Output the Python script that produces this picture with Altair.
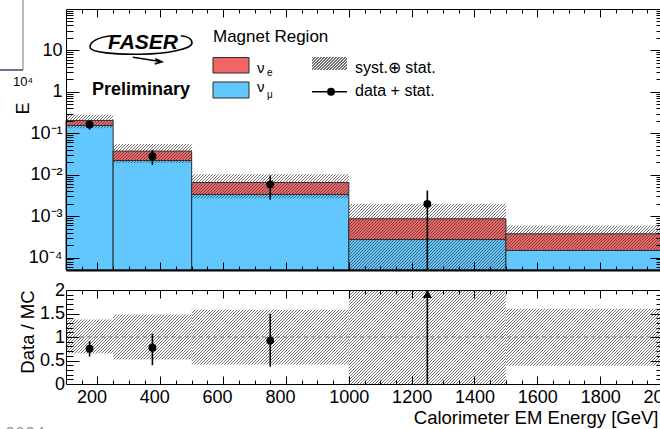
import math
import json
import altair as alt
import pandas as pd

# ---------------- data ----------------
bin_lo = [100, 250, 500, 1000, 1500]
bin_hi = [250, 500, 1000, 1500, 2000]
nu_mu = [0.154, 0.0220, 0.00333, 0.000272, 0.000148]
nu_e = [0.050, 0.0150, 0.00315, 0.000589, 0.000225]
unc_lo = [0.65, 0.52, 0.415, 0.0, 0.39]      # syst+stat band, relative to total MC
unc_hi = [1.37, 1.48, 1.58, 2.30, 1.60]
data_x = [175, 375, 750, 1250]
data_y = [0.163, 0.0280, 0.0058, 0.00198]
data_dn = [0.122, 0.0173, 0.00248, 0.0]
data_up = [0.194, 0.0399, 0.00957, 0.00415]
ratio_y = [0.75, 0.77, 0.925, 2.30]
ratio_dn = [0.585, 0.40, 0.37, 0.0]
ratio_up = [0.91, 1.07, 1.49, 2.60]
x_tick_labels = [200, 400, 600, 800, 1000, 1200, 1400, 1600, 1800, 2000]
top_y_ticks = [1e-4, 1e-3, 1e-2, 1e-1, 1, 10]
top_y_labels = ["10⁻⁴", "10⁻³", "10⁻²", "10⁻¹", "1", "10"]
ratio_y_ticks = [0, 0.5, 1, 1.5, 2]
ratio_y_labels = ["0", "0.5", "1", "1.5", "2"]

# ---------------- geometry / style ----------------
FONT = "Liberation Sans"
W, XR, H = 594, 597, 375
TOP_H, R_TOP, R_BOT = 261, 281, 375
XMIN, XMAX = 100, 2000
YMIN, YMAX = 5e-5, 100
RMIN, RMAX = 0, 2
BLUE = "#63C7FF"
RED = "#F26565"
EDGE = "#2a2a2a"

xs = alt.Scale(domain=[XMIN, XMAX], range=[0, XR], nice=False, zero=False)
yt = alt.Scale(type="log", domain=[YMIN, YMAX], range=[TOP_H, 0], nice=False)
yr = alt.Scale(domain=[RMIN, RMAX], range=[R_BOT, R_TOP], nice=False, zero=False)


def xpx(v):
    return XR * (v - XMIN) / (XMAX - XMIN)


def ypx_top(v):
    return TOP_H * (math.log10(YMAX) - math.log10(v)) / (math.log10(YMAX) - math.log10(YMIN))


def ypx_rat(v):
    return R_BOT - (R_BOT - R_TOP) * (v - RMIN) / (RMAX - RMIN)


def hatch(w, h, period=3.0, frac=0.34, color="rgba(60,60,60,0.72)"):
    """Diagonal '///' hatch as a striped linear gradient with an exact pixel period."""
    w = max(w, 1.0)
    h = max(h, 1.0)
    n = max(1, int(math.ceil((w + h) / period)))
    span = n * period
    k = span / (w * w + h * h)
    clear = "rgba(60,60,60,0)"
    stops = []
    for i in range(n):
        a = round(i / n, 7)
        b = round((i + frac) / n, 7)
        c = round((i + 1) / n, 7)
        stops += [{"offset": a, "color": color}, {"offset": b, "color": color},
                  {"offset": b, "color": clear}, {"offset": c, "color": clear}]
    return {"gradient": "linear", "x1": 0, "y1": 0, "x2": w * k, "y2": h * k, "stops": stops}


def X(f):
    return alt.X(f, type="quantitative", scale=xs, axis=None)


def YT(f):
    return alt.Y(f, type="quantitative", scale=yt, axis=None)


def YR(f):
    return alt.Y(f, type="quantitative", scale=yr, axis=None)


one = pd.DataFrame({"k": [0]})

# ---------------- top panel ----------------
tot = [m + e for m, e in zip(nu_mu, nu_e)]
top_df = pd.DataFrame({
    "x0": bin_lo, "x1": bin_hi, "base": [YMIN] * 5, "mu": nu_mu, "tot": tot,
    "hlo": [max(t * l, YMIN) for t, l in zip(tot, unc_lo)],
    "hhi": [min(t * u, YMAX) for t, u in zip(tot, unc_hi)],
})
layers = []
layers.append(alt.Chart(top_df).mark_rect(color=BLUE, stroke=EDGE, strokeWidth=1)
              .encode(x=X("x0"), x2="x1", y=YT("base"), y2="mu"))
layers.append(alt.Chart(top_df).mark_rect(color=RED, stroke=EDGE, strokeWidth=1)
              .encode(x=X("x0"), x2="x1", y=YT("mu"), y2="tot"))
for i in range(5):
    r = top_df.iloc[[i]]
    w = xpx(bin_hi[i]) - xpx(bin_lo[i])
    h = ypx_top(r["hlo"].iloc[0]) - ypx_top(r["hhi"].iloc[0])
    layers.append(alt.Chart(r).mark_rect(fill=hatch(w, h), strokeWidth=0)
                  .encode(x=X("x0"), x2="x1", y=YT("hlo"), y2="hhi"))

pts = pd.DataFrame({"x": data_x, "y": data_y,
                    "dn": [max(d, YMIN) for d in data_dn], "up": data_up})
layers.append(alt.Chart(pts).mark_rule(color="black", strokeWidth=1.6)
              .encode(x=X("x"), y=YT("dn"), y2="up"))
layers.append(alt.Chart(pts).mark_circle(color="black", size=62, opacity=1)
              .encode(x=X("x"), y=YT("y")))

# ---------------- ratio panel ----------------
rat_df = pd.DataFrame({"x0": bin_lo, "x1": bin_hi,
                       "rlo": [max(v, RMIN) for v in unc_lo],
                       "rhi": [min(v, RMAX) for v in unc_hi]})
for i in range(5):
    r = rat_df.iloc[[i]]
    w = xpx(bin_hi[i]) - xpx(bin_lo[i])
    h = ypx_rat(r["rlo"].iloc[0]) - ypx_rat(r["rhi"].iloc[0])
    layers.append(alt.Chart(r).mark_rect(fill=hatch(w, h), strokeWidth=0)
                  .encode(x=X("x0"), x2="x1", y=YR("rlo"), y2="rhi"))

unity = pd.DataFrame({"x0": [XMIN], "x1": [XMAX], "y": [1.0]})
layers.append(alt.Chart(unity).mark_rule(color="#7a7a7a", strokeWidth=1, strokeDash=[4, 3])
              .encode(x=X("x0"), x2="x1", y=YR("y")))

rpts = pd.DataFrame({"x": data_x, "y": ratio_y,
                     "dn": [max(d, RMIN) for d in ratio_dn],
                     "up": [min(u, RMAX) for u in ratio_up]})
rin = rpts[rpts["y"] <= RMAX]
rout = rpts[rpts["y"] > RMAX].assign(y=RMAX)
layers.append(alt.Chart(rpts).mark_rule(color="black", strokeWidth=1.6)
              .encode(x=X("x"), y=YR("dn"), y2="up"))
layers.append(alt.Chart(rin).mark_circle(color="black", size=62, opacity=1)
              .encode(x=X("x"), y=YR("y")))
layers.append(alt.Chart(rout).mark_point(shape="triangle-up", filled=True, color="black",
                                         size=85, opacity=1, yOffset=4)
              .encode(x=X("x"), y=YR("y")))

# ---------------- axes (labels outside, ticks inside on all sides) ----------------
def label_expr(vals, texts, log=False, pad=""):
    parts = []
    for v, t in zip(vals, texts):
        if log:
            cond = "abs(log(datum.value)/LN10 - (%d)) < 0.01" % round(math.log10(v))
        else:
            cond = "abs(datum.value - (%s)) < 1e-6" % v
        txt = t if ("⁻" in t or not pad) else t + pad
        parts.append("%s ? %s : " % (cond, json.dumps(txt, ensure_ascii=False)))
    return "".join(parts) + "''"


x_minor = list(range(150, 2001, 50))
log_minor = [k * 10.0 ** n for n in range(-5, 2) for k in range(1, 10)
             if YMIN * 1.01 < k * 10.0 ** n < YMAX * 0.99]
rat_minor = [round(0.1 * i, 1) for i in range(1, 20)]

cond_x = {"condition": {"test": "datum.value % 200 === 0", "value": 8}, "value": 4}
cond_log = {"condition": {"test": "abs(log(datum.value)/LN10 - round(log(datum.value)/LN10)) < 0.001",
                          "value": 13}, "value": 7}
cond_rat = {"condition": {"test": "abs(datum.value*2 - round(datum.value*2)) < 0.001",
                          "value": 13}, "value": 7}
xlab_off = {"condition": {"test": "datum.value < 1000", "value": -6}, "value": 0}

LBL = dict(labelFont=FONT, labelFontSize=18, labelColor="black", labelFlush=False,
           labelOverlap=False, labelBound=False, grid=False)
TCK = dict(labels=False, grid=False, tickColor="black", tickWidth=1, domainColor="black",
           title="", zindex=1)

dummy = pd.DataFrame({"x": [1000], "yt": [1.0], "yr": [1.0]})

ax_a = alt.Chart(dummy).mark_point(opacity=0).encode(
    x=alt.X("x:Q", scale=xs, axis=alt.Axis(
        orient="bottom", values=x_tick_labels, format="d", ticks=False, tickSize=0, domain=False,
        labelPadding=4.5, labelOffset=xlab_off, title="Calorimeter EM Energy [GeV]", titleFont=FONT,
        titleFontSize=18.5, titleFontWeight="normal", titleColor="black", titleX=592, titleY=39.5,
        titleAlign="right", titleBaseline="alphabetic", **LBL)),
    y=alt.Y("yt:Q", scale=yt, axis=alt.Axis(
        orient="left", values=top_y_ticks, labelExpr=label_expr(top_y_ticks, top_y_labels, True, "\u2007"),
        ticks=False, tickSize=0, domain=False, labelPadding=4, labelAlign="right", labelBaseline="middle",
        title="E", titleFont=FONT, titleFontSize=18, titleFontWeight="normal", titleColor="black",
        titleAngle=270, titleX=-38, titleY=99, titleAlign="center", titleBaseline="alphabetic", **LBL)),
)
ax_b = alt.Chart(dummy).mark_point(opacity=0).encode(
    x=alt.X("x:Q", scale=xs, axis=alt.Axis(orient="top", offset=-TOP_H, values=x_minor,
                                           tickSize=cond_x, domain=True, domainWidth=2, **TCK)),
    y=alt.Y("yt:Q", scale=yt, axis=alt.Axis(orient="right", offset=-W, values=log_minor,
                                            tickSize=cond_log, domain=True, domainWidth=1, **TCK)),
)
ax_c = alt.Chart(dummy).mark_point(opacity=0).encode(
    x=alt.X("x:Q", scale=xs, axis=alt.Axis(orient="bottom", offset=-H, values=x_minor,
                                           tickSize=cond_x, domain=True, domainWidth=1, **TCK)),
    y=alt.Y("yt:Q", scale=yt, axis=alt.Axis(orient="left", offset=-XR, values=log_minor,
                                            tickSize=cond_log, domain=True, domainWidth=1, **TCK)),
)
ax_d = alt.Chart(dummy).mark_point(opacity=0).encode(
    x=alt.X("x:Q", scale=xs, axis=alt.Axis(orient="bottom", offset=-(H - R_TOP), values=x_minor,
                                           tickSize=cond_x, domain=True, domainWidth=1, **TCK)),
    y=alt.Y("yr:Q", scale=yr, axis=alt.Axis(
        orient="left", values=ratio_y_ticks, labelExpr=label_expr(ratio_y_ticks, ratio_y_labels),
        ticks=False, tickSize=0, domain=False, labelPadding=1.5, labelAlign="right",
        labelBaseline="middle", title="Data / MC", titleFont=FONT, titleFontSize=18.5,
        titleFontWeight="normal", titleColor="black", titleAngle=270, titleX=-33, titleY=322.5,
        titleAlign="center", titleBaseline="alphabetic", **LBL)),
)
ax_e = alt.Chart(dummy).mark_point(opacity=0).encode(
    x=alt.X("x:Q", scale=xs, axis=alt.Axis(orient="top", offset=-R_BOT, values=x_minor,
                                           tickSize=cond_x, domain=True, domainWidth=1, **TCK)),
    y=alt.Y("yr:Q", scale=yr, axis=alt.Axis(orient="right", offset=-W, values=rat_minor,
                                            tickSize=cond_rat, domain=True, domainWidth=1, **TCK)),
)
ax_f = alt.Chart(dummy).mark_point(opacity=0).encode(
    x=alt.X("x:Q", scale=xs, axis=None),
    y=alt.Y("yr:Q", scale=yr, axis=alt.Axis(orient="left", offset=-XR, values=rat_minor,
                                            tickSize=cond_rat, domain=True, domainWidth=1, **TCK)),
)
layers += [ax_a, ax_b, ax_c, ax_d, ax_e, ax_f]

# ---------------- decorations: logo, labels, legend ----------------
def text(t, x, y, size, weight="normal", style="normal", color="black", align="left"):
    return alt.Chart(one).mark_text(text=t, font=FONT, fontSize=size, fontWeight=weight,
                                    fontStyle=style, color=color, align=align,
                                    baseline="alphabetic").encode(x=alt.value(x), y=alt.value(y))


def box(x0, x1, y0, y1, **kw):
    return alt.Chart(one).mark_rect(**kw).encode(x=alt.value(x0), x2=alt.value(x1),
                                                y=alt.value(y0), y2=alt.value(y1))


def seg(x0, x1, y0, y1, color="black", width=1.0):
    return alt.Chart(one).mark_rule(color=color, strokeWidth=width).encode(
        x=alt.value(x0), x2=alt.value(x1), y=alt.value(y0), y2=alt.value(y1))


swoosh = ("M -0.55 -0.18 C -0.85 -0.16 -1 -0.06 -1 0.04 C -1 0.15 -0.5 0.19 0 0.18 "
          "C 0.5 0.17 1 0.08 1 -0.04 C 1 -0.12 0.9 -0.17 0.78 -0.18 "
          "M -0.16 0.24 L 0.41 0.33 M 0.28 0.27 L 0.41 0.33 L 0.27 0.37")
deco = [
    alt.Chart(one).mark_point(shape=swoosh, size=10404, filled=False, color="black",
                              strokeWidth=1.6, opacity=1).encode(x=alt.value(75), y=alt.value(36)),
    text("FASER", 42, 39.5, 21, weight="bold", style="italic"),
    text("Preliminary", 26, 86, 18, weight="bold"),
    text("Magnet Region", 147, 32.7, 17),
    box(147, 183, 48.5, 64, color=RED, stroke=EDGE, strokeWidth=1),
    box(147, 183, 73, 89, color=BLUE, stroke=EDGE, strokeWidth=1),
    text("ν", 191, 63.5, 15), text("e", 201, 67, 10),
    text("ν", 191, 83, 15), text("μ", 201, 88.5, 10),
    box(246, 281, 48, 61, fill=hatch(35, 13), strokeWidth=0),
    seg(246, 281, 82.7, 82.7, width=1.6),
    alt.Chart(one).mark_circle(color="black", size=62, opacity=1).encode(x=alt.value(265), y=alt.value(82.7)),
    text("syst.⊕ stat.", 289, 64.3, 16),
    text("data + stat.", 289, 87, 16),
    # remnants of neighbouring figures visible at the crop edges
    seg(-43, -43, -9, 61, color="#777777", width=1),
    seg(-66, -43, 61, 61, color="#3a4a66", width=1.5),
    text("10⁴", -53, 77, 13),
    text("2024", -61, 431, 18, color="#9a9a9a"),
]
layers += deco

chart = alt.layer(*layers).resolve_scale(x="independent", y="independent").properties(
    width=W, height=H,
    autosize=alt.AutoSizeParams(type="none"),
    padding={"left": 66, "top": 9, "right": 0, "bottom": 45},
    background="white",
).configure_view(strokeWidth=0)

chart.save("out.html", embed_options={"renderer": "svg", "actions": False})
